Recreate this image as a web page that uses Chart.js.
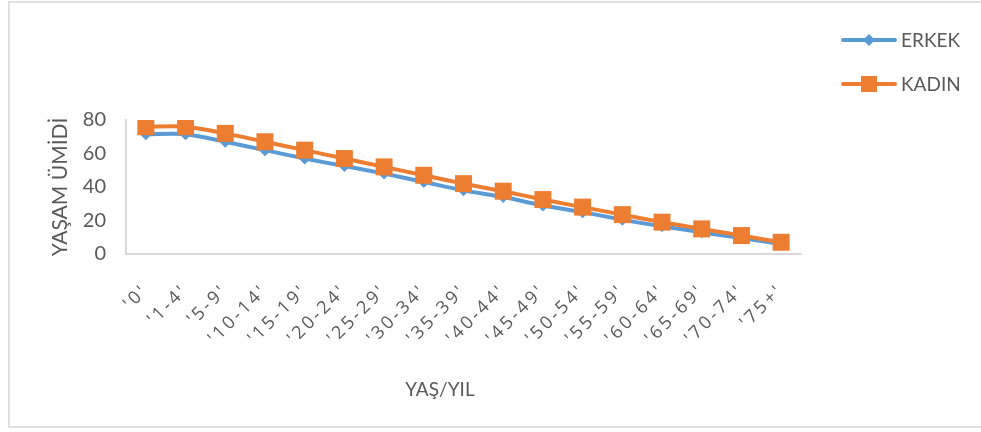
<!DOCTYPE html>
<html>
<head>
<meta charset="utf-8">
<script src="https://cdn.jsdelivr.net/npm/chart.js@4.4.1/dist/chart.umd.min.js"></script>
<style>
  body { margin: 0; background: #fff; }
  #frame { position: absolute; left: 8px; top: 1px; width: 980px; height: 427px; border: 2px solid #e0e0e0; box-sizing: border-box; }
  #yasam_chart { position: absolute; left: 0; top: 0; }
</style>
</head>
<body>
<div id="frame"></div>
<canvas id="yasam_chart" width="981" height="432"></canvas>
<script>
// veriler
const ageGroups = ["'0'", "'1-4'", "'5-9'", "'10-14'", "'15-19'", "'20-24'", "'25-29'", "'30-34'", "'35-39'", "'40-44'", "'45-49'", "'50-54'", "'55-59'", "'60-64'", "'65-69'", "'70-74'", "'75+'"];
const erkek = [71.5, 71.5, 67, 62, 57, 52.5, 48, 43, 38, 34, 29, 25, 20.5, 16.5, 13, 9.5, 6];
const kadin = [76, 76, 72, 67, 62, 57, 52, 47, 42, 37.5, 32.5, 28, 23.5, 19, 15, 11, 7];
const yTicks = [0, 20, 40, 60, 80];

const textColor = '#595959';
const fontName = 'Lato, "Liberation Sans", sans-serif';

window.onload = function(){

    // legend sağ üstte (çizgi + işaret) ve x ekseni başlığı
    const sideLegend = {
        id: 'sideLegend',
        afterDraw(chart){
            const c = chart.ctx;
            c.save();
            chart.data.datasets.forEach(function(ds, i){
                const y = 40 + i * 44;
                c.strokeStyle = ds.borderColor;
                c.lineWidth = 4;
                c.lineCap = 'round';
                c.beginPath();
                c.moveTo(843, y);
                c.lineTo(895, y);
                c.stroke();
                c.fillStyle = ds.pointBackgroundColor;
                c.beginPath();
                if (ds.pointStyle === 'rect') {
                    c.rect(861, y - 8, 16, 16);
                } else {
                    c.moveTo(869, y - 6);
                    c.lineTo(875, y);
                    c.lineTo(869, y + 6);
                    c.lineTo(863, y);
                    c.closePath();
                }
                c.fill();
                c.fillStyle = textColor;
                c.font = '19px ' + fontName;
                c.textBaseline = 'middle';
                c.fillText(ds.label, 901, y + 1);
            });
            // x başlığı
            c.font = '19px ' + fontName;
            c.textAlign = 'center';
            c.textBaseline = 'middle';
            c.fillText('YAŞ/YIL', 440, 390);
            c.restore();
        }
    };

    const ctx = document.getElementById('yasam_chart');
    const myChart = new Chart(ctx, {
        type: 'line',
        data: {
            labels: ageGroups,
            datasets: [{
                label: 'ERKEK',
                data: erkek,
                borderColor: '#5B9BD5',
                backgroundColor: '#5B9BD5',
                pointBackgroundColor: '#5B9BD5',
                pointBorderWidth: 0,
                pointStyle: 'rectRot',
                pointRadius: 6,
                borderWidth: 4,
                tension: 0.3,
                order: 1
            },
            {
                label: 'KADIN',
                data: kadin,
                borderColor: '#ED7D31',
                backgroundColor: '#ED7D31',
                pointBackgroundColor: '#ED7D31',
                pointBorderWidth: 0,
                pointStyle: 'rect',
                pointRadius: 12,
                borderWidth: 4,
                tension: 0.3,
                order: 0
            }]
        },
        options: {
            responsive: false,
            animation: false,
            layout: {
                padding: { left: 46, right: 180, top: 120, bottom: 30 }
            },
            plugins: {
                legend: { display: false },
                tooltip: { enabled: false }
            },
            scales: {
                x: {
                    offset: true,
                    grid: { display: false, drawTicks: false },
                    border: { display: true, color: '#d9d9d9', width: 2 },
                    ticks: {
                        color: textColor,
                        font: { family: '"Open Sans", sans-serif', size: 18 },
                        minRotation: 45,
                        maxRotation: 45,
                        padding: 26,
                        autoSkip: false
                    },
                    afterFit: function(scale){
                        scale.height = 148;
                        // etiketlerde harf aralığı
                        if (!scale._spaced) {
                            const orig = scale.drawLabels;
                            scale.drawLabels = function(area){
                                this.ctx.save();
                                this.ctx.letterSpacing = '3px';
                                orig.call(this, area);
                                this.ctx.restore();
                            };
                            scale._spaced = true;
                        }
                    }
                },
                y: {
                    min: 0,
                    max: 80,
                    grid: { display: false, drawTicks: false },
                    border: { display: true, color: '#d9d9d9', width: 2 },
                    afterBuildTicks: function(scale){
                        scale.ticks = yTicks.map(function(v){ return { value: v }; });
                    },
                    ticks: {
                        color: textColor,
                        font: { family: fontName, size: 20 },
                        padding: 20
                    },
                    title: {
                        display: true,
                        text: 'YAŞAM ÜMİDİ',
                        color: textColor,
                        font: { family: fontName, size: 21 },
                        padding: { top: 2, bottom: 2 }
                    },
                    afterFit: function(scale){ scale.width = 80; }
                }
            }
        },
        plugins: [sideLegend]
    });
}
</script>
</body>
</html>
